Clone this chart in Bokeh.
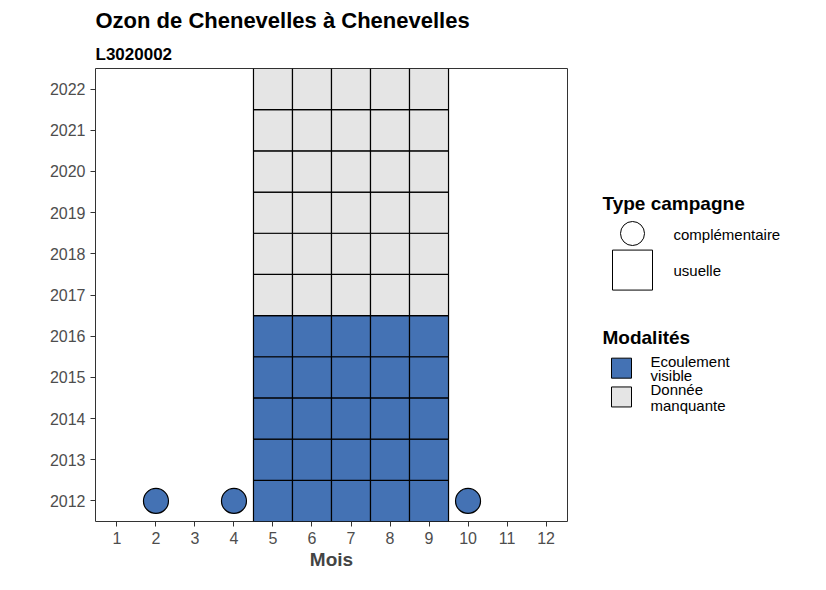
from bokeh.plotting import figure
from bokeh.layouts import row
from bokeh.models import Range1d, FixedTicker, Title
from bokeh.core.properties import value
from bokeh.embed import file_html
from bokeh.resources import INLINE

FONT = "Liberation Sans"

# data
months = [5, 6, 7, 8, 9]
years_visible = [2012, 2013, 2014, 2015, 2016]
years_missing = [2017, 2018, 2019, 2020, 2021, 2022]
compl_months = [2, 4, 10]
compl_years = [2012, 2012, 2012]
BLUE = "#4472B4"
GREY = "#E5E5E5"

vis_x, vis_y, mis_x, mis_y = [], [], [], []
for m in months:
    for y in years_visible:
        vis_x.append(m); vis_y.append(y)
    for y in years_missing:
        mis_x.append(m); mis_y.append(y)

H = 582
MW = 577
p = figure(width=MW, height=H, output_backend="svg", toolbar_location=None,
           x_range=Range1d(0.45, 12.55), y_range=Range1d(2011.5, 2022.5),
           min_border_left=95, min_border_right=10, min_border_bottom=61, min_border_top=10)
p.add_layout(Title(text="L3020002", text_font=FONT, text_font_size="17px",
                   text_font_style="bold", text_color="black", standoff=10), "above")
p.add_layout(Title(text="Ozon de Chenevelles à Chenevelles", text_font=FONT,
                   text_font_size="22px", text_font_style="bold", text_color="black"), "above")

p.xgrid.visible = False
p.ygrid.visible = False
p.outline_line_color = "#333333"

for ax in (p.xaxis, p.yaxis):
    ax.axis_line_color = None
    ax.major_tick_line_color = "#333333"
    ax.major_tick_out = 5
    ax.major_tick_in = 0
    ax.minor_tick_line_color = None
    ax.major_label_text_font = FONT
    ax.major_label_text_font_size = "16px"
    ax.major_label_text_color = "#4D4D4D"
p.xaxis.ticker = FixedTicker(ticks=list(range(1, 13)))
p.yaxis.ticker = FixedTicker(ticks=list(range(2012, 2023)))
p.xaxis.axis_label = "Mois"
p.xaxis.axis_label_text_font = FONT
p.xaxis.axis_label_text_font_size = "19px"
p.xaxis.axis_label_text_font_style = "bold"
p.xaxis.axis_label_standoff = 2

p.rect(x=vis_x, y=vis_y, width=1, height=1, fill_color=BLUE, line_color="black", line_width=1.2)
p.rect(x=mis_x, y=mis_y, width=1, height=1, fill_color=GREY, line_color="black", line_width=1.2)
p.scatter(x=compl_months, y=compl_years, size=25, fill_color=BLUE, line_color="black", line_width=1.2)

# legend panel (pixel coordinates)
LW = 826 - MW
lg = figure(width=LW, height=H, output_backend="svg", toolbar_location=None,
            x_range=Range1d(MW, 826), y_range=Range1d(H, 0), min_border=0)
lg.axis.visible = False
lg.grid.visible = False
lg.outline_line_color = None

lg.text(x=[602, 602], y=[173, 345], text=["Type campagne", "Modalités"],
        text_font=value(FONT), text_font_size="19px", text_font_style="bold",
        text_baseline="middle")
lg.scatter(x=[632], y=[212], size=24, marker="circle", fill_color="white", line_color="black")
lg.scatter(x=[632], y=[259], size=40, marker="square", fill_color="white", line_color="black")
lg.scatter(x=[621, 621], y=[385, 422], size=20, marker="square",
           fill_color=[BLUE, GREY], line_color="black")
lg.text(x=[673, 673], y=[213, 260], text=["complémentaire", "usuelle"],
        text_font=value(FONT), text_font_size="15px", text_baseline="middle")
lg.text(x=[650, 650, 650, 650], y=[376, 395, 413, 433],
        text=["Ecoulement", "visible", "Donnée", "manquante"],
        text_font=value(FONT), text_font_size="15px", text_baseline="middle")

open("out.html", "w").write(file_html(row(p, lg), INLINE))
